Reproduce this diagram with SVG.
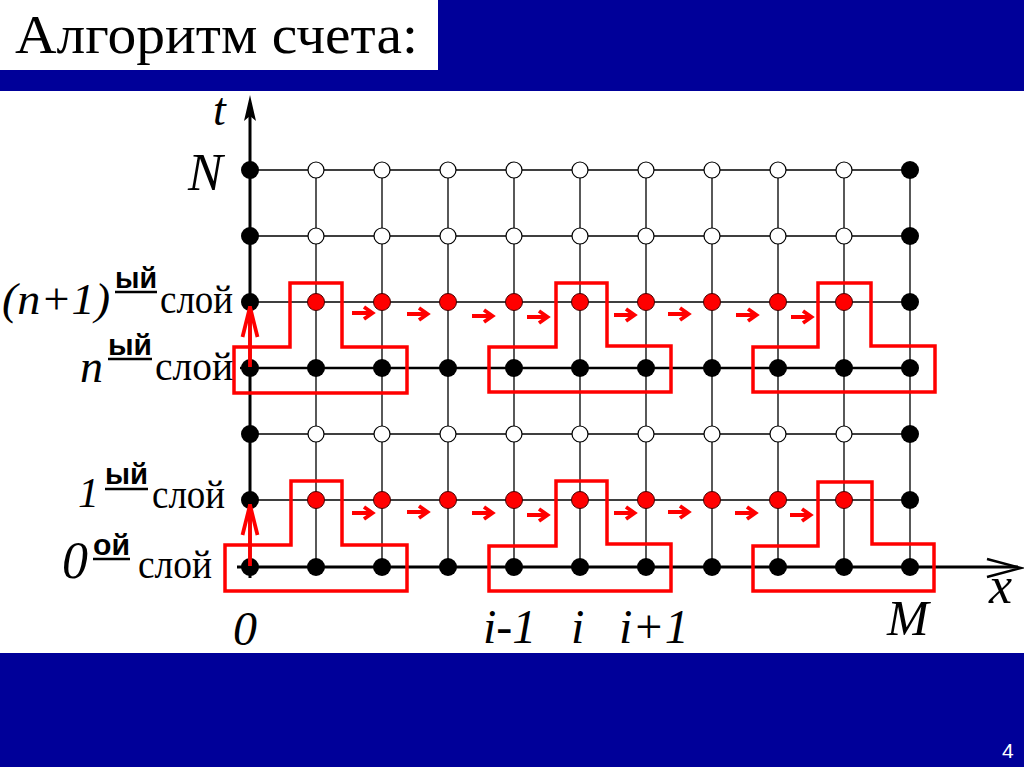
<svg xmlns="http://www.w3.org/2000/svg" xmlns:xlink="http://www.w3.org/1999/xlink" width="1024" height="767" viewBox="0 0 1024 767">
<defs>
<style>
.grid{stroke:#000;stroke-width:1.3;fill:none}
.thick{stroke:#000;stroke-width:3;fill:none}
.blk{fill:#000}
.opn{fill:#fff;stroke:#000;stroke-width:1.2}
.red{fill:#f00;stroke:#400;stroke-width:1}
.tshape{fill:none;stroke:#f00;stroke-width:3.5}
.math{font-family:"Liberation Serif",serif;font-style:italic;fill:#000}
.rus{font-family:"Liberation Serif",serif;fill:#000}
.sup{font-family:"Liberation Sans",sans-serif;font-weight:bold;fill:#000}
.ul{stroke:#000;stroke-width:2.5}
.rarr{fill:none;stroke:#f00;stroke-width:3.8;stroke-linejoin:miter}
</style>
<path id="ha" class="rarr" d="M0,0 H18 M12,-6 L20.5,0 L12,6"/>
</defs>
<rect x="0" y="0" width="1024" height="767" fill="#fff"/>
<rect x="0" y="0" width="1024" height="91" fill="#000099"/>
<rect x="0" y="0" width="438" height="70" fill="#fff"/>
<rect x="0" y="653" width="1024" height="114" fill="#000099"/>
<text x="15" y="53" font-family="Liberation Serif,serif" font-size="55" textLength="403" lengthAdjust="spacingAndGlyphs" fill="#000">Алгоритм счета:</text>
<text x="1002" y="758" font-family="Liberation Sans,sans-serif" font-size="21" fill="#fff">4</text>

<g id="connectors">
<g class="grid">
<path d="M250,170H910M250,236H910M250,302H910M250,434H910M250,500H910"/>
<path d="M316,170V567M382,170V567M448,170V567M514,170V567M580,170V567M646,170V567M712,170V567M778,170V567M844,170V567M910,170V567"/>
</g>
<path d="M240,368H910" stroke="#000" stroke-width="2.5"/>
<path class="thick" d="M237,567H1018"/>
<path d="M987,559 L1021,568 L987,577" fill="none" stroke="#000" stroke-width="2.5"/>
<path class="thick" d="M250,578V112"/>
<path d="M250,95 L256,121 L250,116 L244,121 Z" fill="#000"/>
</g>

<g id="nodes">
<g id="n-r1-c0"><circle class="blk" cx="250" cy="170" r="9"/></g>
<g id="n-r1-c1"><circle class="opn" cx="316" cy="170" r="8"/></g>
<g id="n-r1-c2"><circle class="opn" cx="382" cy="170" r="8"/></g>
<g id="n-r1-c3"><circle class="opn" cx="448" cy="170" r="8"/></g>
<g id="n-r1-c4"><circle class="opn" cx="514" cy="170" r="8"/></g>
<g id="n-r1-c5"><circle class="opn" cx="580" cy="170" r="8"/></g>
<g id="n-r1-c6"><circle class="opn" cx="646" cy="170" r="8"/></g>
<g id="n-r1-c7"><circle class="opn" cx="712" cy="170" r="8"/></g>
<g id="n-r1-c8"><circle class="opn" cx="778" cy="170" r="8"/></g>
<g id="n-r1-c9"><circle class="opn" cx="844" cy="170" r="8"/></g>
<g id="n-r1-c10"><circle class="blk" cx="910" cy="170" r="9"/></g>

<g id="n-r2-c0"><circle class="blk" cx="250" cy="236" r="9"/></g>
<g id="n-r2-c1"><circle class="opn" cx="316" cy="236" r="8"/></g>
<g id="n-r2-c2"><circle class="opn" cx="382" cy="236" r="8"/></g>
<g id="n-r2-c3"><circle class="opn" cx="448" cy="236" r="8"/></g>
<g id="n-r2-c4"><circle class="opn" cx="514" cy="236" r="8"/></g>
<g id="n-r2-c5"><circle class="opn" cx="580" cy="236" r="8"/></g>
<g id="n-r2-c6"><circle class="opn" cx="646" cy="236" r="8"/></g>
<g id="n-r2-c7"><circle class="opn" cx="712" cy="236" r="8"/></g>
<g id="n-r2-c8"><circle class="opn" cx="778" cy="236" r="8"/></g>
<g id="n-r2-c9"><circle class="opn" cx="844" cy="236" r="8"/></g>
<g id="n-r2-c10"><circle class="blk" cx="910" cy="236" r="9"/></g>

<g id="n-r3-c0"><circle class="blk" cx="250" cy="302" r="9"/></g>
<g id="n-r3-c1"><circle class="red" cx="316" cy="302" r="8.5"/></g>
<g id="n-r3-c2"><circle class="red" cx="382" cy="302" r="8.5"/></g>
<g id="n-r3-c3"><circle class="red" cx="448" cy="302" r="8.5"/></g>
<g id="n-r3-c4"><circle class="red" cx="514" cy="302" r="8.5"/></g>
<g id="n-r3-c5"><circle class="red" cx="580" cy="302" r="8.5"/></g>
<g id="n-r3-c6"><circle class="red" cx="646" cy="302" r="8.5"/></g>
<g id="n-r3-c7"><circle class="red" cx="712" cy="302" r="8.5"/></g>
<g id="n-r3-c8"><circle class="red" cx="778" cy="302" r="8.5"/></g>
<g id="n-r3-c9"><circle class="red" cx="844" cy="302" r="8.5"/></g>
<g id="n-r3-c10"><circle class="blk" cx="910" cy="302" r="9"/></g>

<g id="n-r4-c0"><circle class="blk" cx="250" cy="368" r="9"/></g>
<g id="n-r4-c1"><circle class="blk" cx="316" cy="368" r="9"/></g>
<g id="n-r4-c2"><circle class="blk" cx="382" cy="368" r="9"/></g>
<g id="n-r4-c3"><circle class="blk" cx="448" cy="368" r="9"/></g>
<g id="n-r4-c4"><circle class="blk" cx="514" cy="368" r="9"/></g>
<g id="n-r4-c5"><circle class="blk" cx="580" cy="368" r="9"/></g>
<g id="n-r4-c6"><circle class="blk" cx="646" cy="368" r="9"/></g>
<g id="n-r4-c7"><circle class="blk" cx="712" cy="368" r="9"/></g>
<g id="n-r4-c8"><circle class="blk" cx="778" cy="368" r="9"/></g>
<g id="n-r4-c9"><circle class="blk" cx="844" cy="368" r="9"/></g>
<g id="n-r4-c10"><circle class="blk" cx="910" cy="368" r="9"/></g>

<g id="n-r5-c0"><circle class="blk" cx="250" cy="434" r="9"/></g>
<g id="n-r5-c1"><circle class="opn" cx="316" cy="434" r="8"/></g>
<g id="n-r5-c2"><circle class="opn" cx="382" cy="434" r="8"/></g>
<g id="n-r5-c3"><circle class="opn" cx="448" cy="434" r="8"/></g>
<g id="n-r5-c4"><circle class="opn" cx="514" cy="434" r="8"/></g>
<g id="n-r5-c5"><circle class="opn" cx="580" cy="434" r="8"/></g>
<g id="n-r5-c6"><circle class="opn" cx="646" cy="434" r="8"/></g>
<g id="n-r5-c7"><circle class="opn" cx="712" cy="434" r="8"/></g>
<g id="n-r5-c8"><circle class="opn" cx="778" cy="434" r="8"/></g>
<g id="n-r5-c9"><circle class="opn" cx="844" cy="434" r="8"/></g>
<g id="n-r5-c10"><circle class="blk" cx="910" cy="434" r="9"/></g>

<g id="n-r6-c0"><circle class="blk" cx="250" cy="500" r="9"/></g>
<g id="n-r6-c1"><circle class="red" cx="316" cy="500" r="8.5"/></g>
<g id="n-r6-c2"><circle class="red" cx="382" cy="500" r="8.5"/></g>
<g id="n-r6-c3"><circle class="red" cx="448" cy="500" r="8.5"/></g>
<g id="n-r6-c4"><circle class="red" cx="514" cy="500" r="8.5"/></g>
<g id="n-r6-c5"><circle class="red" cx="580" cy="500" r="8.5"/></g>
<g id="n-r6-c6"><circle class="red" cx="646" cy="500" r="8.5"/></g>
<g id="n-r6-c7"><circle class="red" cx="712" cy="500" r="8.5"/></g>
<g id="n-r6-c8"><circle class="red" cx="778" cy="500" r="8.5"/></g>
<g id="n-r6-c9"><circle class="red" cx="844" cy="500" r="8.5"/></g>
<g id="n-r6-c10"><circle class="blk" cx="910" cy="500" r="9"/></g>

<g id="n-r7-c0"><circle class="blk" cx="250" cy="567" r="9"/></g>
<g id="n-r7-c1"><circle class="blk" cx="316" cy="567" r="9"/></g>
<g id="n-r7-c2"><circle class="blk" cx="382" cy="567" r="9"/></g>
<g id="n-r7-c3"><circle class="blk" cx="448" cy="567" r="9"/></g>
<g id="n-r7-c4"><circle class="blk" cx="514" cy="567" r="9"/></g>
<g id="n-r7-c5"><circle class="blk" cx="580" cy="567" r="9"/></g>
<g id="n-r7-c6"><circle class="blk" cx="646" cy="567" r="9"/></g>
<g id="n-r7-c7"><circle class="blk" cx="712" cy="567" r="9"/></g>
<g id="n-r7-c8"><circle class="blk" cx="778" cy="567" r="9"/></g>
<g id="n-r7-c9"><circle class="blk" cx="844" cy="567" r="9"/></g>
<g id="n-r7-c10"><circle class="blk" cx="910" cy="567" r="9"/></g>
</g>

<g id="stencils">
<g id="t1"><path class="tshape" d="M290,283 H342 V347 H407 V393 H234 V347 H290 Z"/></g>
<g id="t2"><path class="tshape" d="M556,283 H607 V346 H671 V392 H489 V347 H556 Z"/></g>
<g id="t3"><path class="tshape" d="M818,283 H871 V346 H935 V392 H753 V347 H818 Z"/></g>
<g id="t4"><path class="tshape" d="M291,481 H342 V545 H407 V591 H225 V545 H291 Z"/></g>
<g id="t5"><path class="tshape" d="M556,481 H607 V544 H671 V591 H489 V546 H556 Z"/></g>
<g id="t6"><path class="tshape" d="M818,482 H872 V544 H934 V591 H753 V546 H818 Z"/></g>
</g>

<g id="red-arrows">
<path class="rarr" d="M250,367 V306 M242.5,337 L250,307 L257.5,337"/>
<path class="rarr" d="M250,566 V504 M242.5,535 L250,505 L257.5,535"/>
<use xlink:href="#ha" href="#ha" x="352" y="313"/>
<use xlink:href="#ha" href="#ha" x="407" y="314"/>
<use xlink:href="#ha" href="#ha" x="472" y="316"/>
<use xlink:href="#ha" href="#ha" x="527" y="317"/>
<use xlink:href="#ha" href="#ha" x="614" y="315"/>
<use xlink:href="#ha" href="#ha" x="668" y="314"/>
<use xlink:href="#ha" href="#ha" x="736" y="315"/>
<use xlink:href="#ha" href="#ha" x="791" y="317"/>
<use xlink:href="#ha" href="#ha" x="352" y="513"/>
<use xlink:href="#ha" href="#ha" x="407" y="512"/>
<use xlink:href="#ha" href="#ha" x="472" y="513"/>
<use xlink:href="#ha" href="#ha" x="527" y="515"/>
<use xlink:href="#ha" href="#ha" x="614" y="513"/>
<use xlink:href="#ha" href="#ha" x="668" y="512"/>
<use xlink:href="#ha" href="#ha" x="735" y="513"/>
<use xlink:href="#ha" href="#ha" x="790" y="515"/>
</g>

<g id="labels">
<text class="math" x="213" y="125" font-size="46">t</text>
<text class="math" x="188" y="190" font-size="52">N</text>
<text class="math" x="2" y="314" font-size="44" textLength="108" lengthAdjust="spacingAndGlyphs">(n+1)</text>
<text class="sup" x="115" y="288" font-size="29" textLength="42" lengthAdjust="spacingAndGlyphs">ый</text>
<line class="ul" x1="115" y1="292" x2="157" y2="292"/>
<text class="rus" x="160" y="313" font-size="41" textLength="73" lengthAdjust="spacingAndGlyphs">слой</text>

<text class="math" x="80" y="382" font-size="46">n</text>
<text class="sup" x="108" y="355" font-size="29" textLength="44" lengthAdjust="spacingAndGlyphs">ый</text>
<line class="ul" x1="108" y1="359" x2="152" y2="359"/>
<text class="rus" x="155" y="380" font-size="41" textLength="78" lengthAdjust="spacingAndGlyphs">слой</text>

<text class="math" x="78" y="507" font-size="42">1</text>
<text class="sup" x="105" y="484" font-size="29" textLength="43" lengthAdjust="spacingAndGlyphs">ый</text>
<line class="ul" x1="105" y1="489" x2="148" y2="489"/>
<text class="rus" x="152" y="508" font-size="41" textLength="73" lengthAdjust="spacingAndGlyphs">слой</text>

<text class="math" x="62" y="578" font-size="52">0</text>
<text class="sup" x="93" y="555" font-size="29" textLength="37" lengthAdjust="spacingAndGlyphs">ой</text>
<line class="ul" x1="93" y1="559" x2="130" y2="559"/>
<text class="rus" x="138" y="578" font-size="41" textLength="74" lengthAdjust="spacingAndGlyphs">слой</text>

<text class="math" x="233" y="645" font-size="48">0</text>
<text class="math" x="483" y="643" font-size="48">i-1</text>
<text class="math" x="571" y="643" font-size="48">i</text>
<text class="math" x="619" y="643" font-size="48">i+1</text>
<text class="math" x="887" y="635" font-size="50">M</text>
<text class="math" x="989" y="603" font-size="52">x</text>
</g>
</svg>
